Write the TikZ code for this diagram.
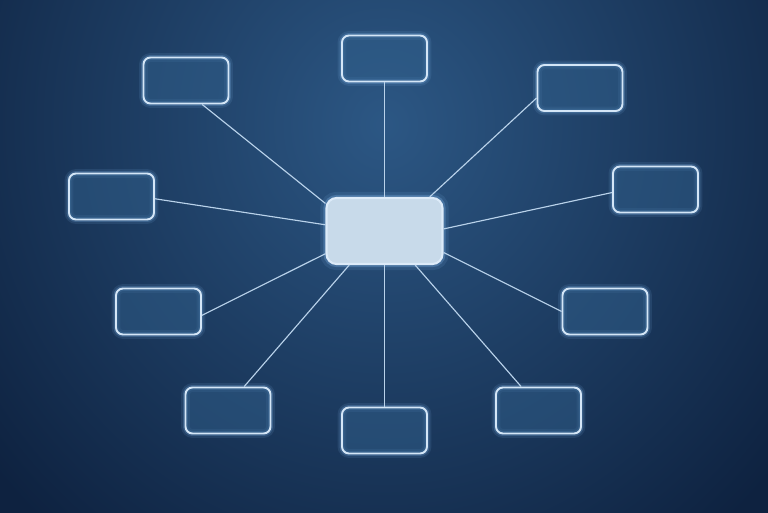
\documentclass[tikz,border=0pt]{standalone}
\usepackage{tikz}
\usetikzlibrary{positioning}
\definecolor{bgdark}{HTML}{0E2240}
\definecolor{bglight}{HTML}{2C5784}
\definecolor{rimcol}{HTML}{D4E6F7}
\definecolor{glowcol}{HTML}{7FB4E8}
\definecolor{leafcol}{HTML}{31608C}
\definecolor{hubcol}{HTML}{C8DAEA}
\definecolor{linkcol}{HTML}{B9D2EA}

\begin{document}
\begin{tikzpicture}[
        leaf/.style={rectangle, rounded corners=0.14cm, inner sep=0pt,
          minimum width=1.70cm, minimum height=0.92cm,
          draw=rimcol, line width=1.1pt, fill=leafcol, fill opacity=0.5,
          preaction={draw=glowcol, line width=5pt, draw opacity=0.12},
          preaction={draw=glowcol, line width=2.8pt, draw opacity=0.25}},
        hub/.style={rectangle, rounded corners=0.2cm, inner sep=0pt,
          minimum width=2.32cm, minimum height=1.32cm,
          draw=rimcol!80!white, line width=1.2pt, fill=hubcol,
          preaction={draw=glowcol, line width=7pt, draw opacity=0.12},
          preaction={draw=glowcol, line width=3.5pt, draw opacity=0.3}},
        link/.style={draw=linkcol, line width=0.65pt},
        ]

        % background
        \useasboundingbox (0,0) rectangle (15.36,10.24);
        \begin{scope}
          \clip (0,0) rectangle (15.36,10.24);
          \fill[bgdark] (0,0) rectangle (15.36,10.24);
          \shade[inner color=bglight, outer color=bgdark] (-2.5,-3) rectangle (17.86,18.5);
        \end{scope}

        \node[hub]  (hub) at (7.69,5.62)  {};
        \node[leaf] (b_1) at (3.72,8.63)  {};
        \node[leaf] (b_2) at (7.69,9.07)  {};
        \node[leaf] (b_3) at (11.60,8.48) {};
        \node[leaf] (b_4) at (2.23,6.31)  {};
        \node[leaf] (b_5) at (13.11,6.45) {};
        \node[leaf] (b_6) at (3.17,4.01)  {};
        \node[leaf] (b_7) at (12.10,4.01) {};
        \node[leaf] (b_8) at (4.56,2.03)  {};
        \node[leaf] (b_9) at (7.69,1.63)  {};
        \node[leaf] (b_10) at (10.77,2.03) {};

        \path[link] (hub.155) edge (b_1.-56)
        (hub.north) edge (b_2.south)
        (hub.37) edge (b_3.193)
        (hub.174.5) edge (b_4.-3)
        (hub.2.6) edge (b_5.184)
        (hub.201) edge (b_6.-5)
        (hub.-20) edge (b_7.180)
        (hub.224.4) edge (b_8.56.4)
        (hub.south) edge (b_9.north)
        (hub.-48) edge (b_10.126);
      \end{tikzpicture}
\end{document}
